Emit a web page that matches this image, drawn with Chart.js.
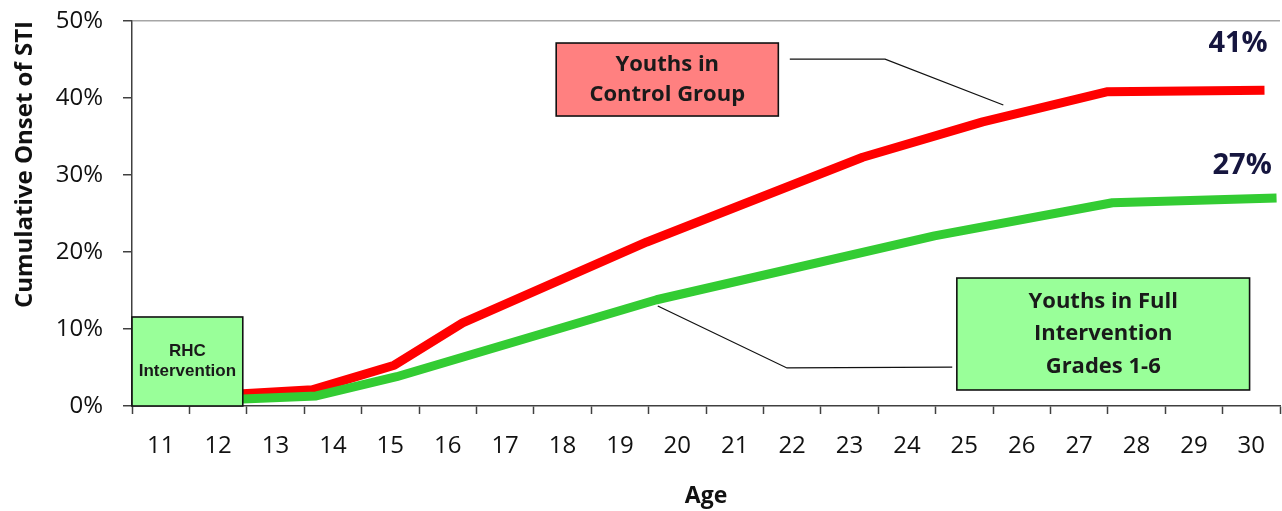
<!DOCTYPE html>
<html>
<head>
<meta charset="utf-8">
<title>Cumulative Onset of STI by Age</title>
<script src="https://cdn.jsdelivr.net/npm/chart.js@4.4.1/dist/chart.umd.min.js"></script>
<style>
  html, body { margin: 0; padding: 0; background: #ffffff; }
  canvas { display: block; }
</style>
</head>
<body>
<canvas id="sti" width="1282" height="511"></canvas>
<script>
// Age categories shown along the bottom axis
const ageLabels = ['11','12','13','14','15','16','17','18','19','20',
                   '21','22','23','24','25','26','27','28','29','30'];

// Control group: age (years) and cumulative onset of STI (%)
const controlAges = [12.43, 13.64, 15.07, 16.26, 19.47, 23.23, 25.32, 27.48, 30.23];
const controlPct  = [1.6,   2.1,   5.3,   10.8,  21.3,  32.3,  36.9,  40.8,  41];

// Full intervention (grades 1-6): age (years) and cumulative onset of STI (%)
const fullAges = [12.43, 13.71, 15.11, 19.64, 24.48, 27.58, 30.44];
const fullPct  = [0.9,   1.3,   3.8,   13.8,  22.1,  26.4,  27];

const toPoints = (xs, ys) => xs.map((x, i) => ({ x, y: ys[i] }));

const FONT = "'Open Sans', 'DejaVu Sans', sans-serif";

// Callout layout, in axis units (age, percent)
const callouts = {
  boxes: [
    { x0: 10.5, x1: 12.43, y0: 0, y1: 11.56, fill: '#99ff99',
      lines: ['RHC', 'Intervention'], lineGap: 20,
      font: "bold 17px 'Liberation Sans', Arial, sans-serif" },
    { x0: 17.89, x1: 21.76, y0: 37.66, y1: 47.14, fill: '#ff8080',
      lines: ['Youths in', 'Control Group'], lineGap: 30,
      font: `bold 22px ${FONT}` },
    { x0: 24.87, x1: 29.97, y0: 2.08, y1: 16.62, fill: '#99ff99',
      lines: ['Youths in Full', 'Intervention', 'Grades 1-6'], lineGap: 32.5,
      font: `bold 22px ${FONT}` }
  ],
  leaders: [
    [[21.96, 45.06], [23.62, 45.06], [25.68, 39.09]],
    [[19.66, 12.99], [21.91, 4.94], [24.79, 5.06]]
  ],
  endLabels: [
    { dataset: 0, x: 29.77, y: 47.1 },
    { dataset: 1, x: 29.84, y: 31.2 }
  ]
};

// Draws the labelled callout boxes, their leader lines and the end-of-line values
const calloutPlugin = {
  id: 'callouts',
  afterDatasetsDraw(chart) {
    const { ctx } = chart;
    const xs = chart.scales.xv, ys = chart.scales.y;
    const px = v => xs.getPixelForValue(v);
    const py = v => ys.getPixelForValue(v);
    ctx.save();

    // leader lines
    ctx.strokeStyle = '#111111';
    ctx.lineWidth = 1.3;
    for (const path of callouts.leaders) {
      ctx.beginPath();
      path.forEach((p, i) => i ? ctx.lineTo(px(p[0]), py(p[1])) : ctx.moveTo(px(p[0]), py(p[1])));
      ctx.stroke();
    }

    // boxes with text
    for (const b of callouts.boxes) {
      const l = px(b.x0), r = px(b.x1), t = py(b.y1), btm = py(b.y0);
      ctx.fillStyle = b.fill;
      ctx.fillRect(l, t, r - l, btm - t);
      ctx.strokeStyle = '#111111';
      ctx.lineWidth = 1.6;
      ctx.strokeRect(l, t, r - l, btm - t);
      ctx.fillStyle = '#1a1a1a';
      ctx.font = b.font;
      ctx.textAlign = 'center';
      ctx.textBaseline = 'middle';
      const cx = (l + r) / 2, cy = (t + btm) / 2;
      const n = b.lines.length;
      b.lines.forEach((line, i) => {
        ctx.fillText(line, cx, cy + (i - (n - 1) / 2) * b.lineGap);
      });
    }

    // final values of each series
    ctx.fillStyle = '#16163f';
    ctx.font = `bold 29px ${FONT}`;
    ctx.textAlign = 'center';
    ctx.textBaseline = 'middle';
    for (const e of callouts.endLabels) {
      const data = chart.data.datasets[e.dataset].data;
      const last = data[data.length - 1];
      ctx.fillText(`${last.y}%`, px(e.x), py(e.y));
    }
    ctx.restore();
  }
};

new Chart(document.getElementById('sti'), {
  type: 'line',
  data: {
    labels: ageLabels,
    datasets: [
      {
        label: 'Youths in Control Group',
        data: toPoints(controlAges, controlPct),
        xAxisID: 'xv',
        borderColor: '#ff0000',
        borderWidth: 9,
        borderJoinStyle: 'round',
        pointRadius: 0,
        tension: 0,
        order: 1
      },
      {
        label: 'Youths in Full Intervention Grades 1-6',
        data: toPoints(fullAges, fullPct),
        xAxisID: 'xv',
        borderColor: '#33cc33',
        borderWidth: 9,
        borderJoinStyle: 'round',
        pointRadius: 0,
        tension: 0,
        order: 0
      }
    ]
  },
  options: {
    responsive: false,
    animation: false,
    layout: { padding: { top: 21, right: 2, left: 0, bottom: 0 } },
    plugins: {
      legend: { display: false },
      tooltip: { enabled: false }
    },
    scales: {
      x: {
        type: 'category',
        position: 'bottom',
        offset: true,
        afterFit: s => { s.height = 105; s.paddingLeft = 0; s.paddingRight = 0; },
        border: { display: true, color: '#404040', width: 1.5 },
        grid: { offset: true, drawOnChartArea: false, drawTicks: true,
                tickLength: 8, tickColor: '#404040', tickWidth: 1.5 },
        ticks: { color: '#111111', font: { family: FONT, size: 24 },
                 padding: 18, maxRotation: 0, autoSkip: false },
        title: { display: true, text: 'Age', color: '#111111',
                 font: { family: FONT, size: 23, weight: 'bold' },
                 padding: { top: 0, bottom: 1 } }
      },
      xv: {
        type: 'linear',
        position: 'bottom',
        display: false,
        min: 10.5,
        max: 30.5
      },
      y: {
        min: 0,
        max: 50,
        afterFit: s => { s.width = 132; s.paddingTop = 0; s.paddingBottom = 0; },
        border: { display: true, color: '#404040', width: 1.5 },
        grid: {
          drawOnChartArea: true,
          color: c => (c.tick && c.tick.value === 50) ? '#a6a6a6' : 'rgba(0,0,0,0)',
          lineWidth: 1.5,
          tickLength: 9,
          tickColor: '#404040',
          tickWidth: 1.5
        },
        ticks: { stepSize: 10, color: '#111111', padding: 20,
                 font: { family: FONT, size: 24 },
                 callback: v => v + '%' },
        title: { display: true, text: 'Cumulative Onset of STI', align: 'end',
                 color: '#111111',
                 font: { family: FONT, size: 24, weight: 'bold' },
                 padding: { top: 11, bottom: 0 } }
      }
    }
  },
  plugins: [calloutPlugin]
});
</script>
</body>
</html>
